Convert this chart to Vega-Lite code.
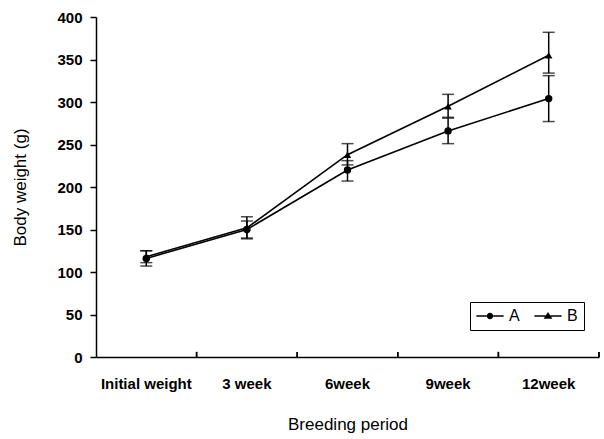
{
  "$schema": "https://vega.github.io/schema/vega-lite/v6.json",
  "width": 503,
  "height": 340,
  "autosize": "none",
  "padding": {"left": 96, "top": 17, "right": 5, "bottom": 82},
  "background": "white",
  "config": {
    "view": {"stroke": null},
    "font": "Liberation Sans",
    "axis": {"grid": false, "domainColor": "black", "tickColor": "black", "labelColor": "black", "titleColor": "black", "domainWidth": 1.5, "tickWidth": 1.5}
  },
  "data": {
    "values": [
      {"period": "Initial weight", "group": "A", "mean": 116, "lo": 107, "hi": 125},
      {"period": "Initial weight", "group": "B", "mean": 118, "lo": 111, "hi": 125},
      {"period": "3 week", "group": "A", "mean": 150, "lo": 140, "hi": 160},
      {"period": "3 week", "group": "B", "mean": 152, "lo": 139, "hi": 165},
      {"period": "6week", "group": "A", "mean": 220, "lo": 207, "hi": 231},
      {"period": "6week", "group": "B", "mean": 238, "lo": 226, "hi": 251},
      {"period": "9week", "group": "A", "mean": 266, "lo": 251, "hi": 281},
      {"period": "9week", "group": "B", "mean": 295, "lo": 282, "hi": 309},
      {"period": "12week", "group": "A", "mean": 304, "lo": 277, "hi": 331},
      {"period": "12week", "group": "B", "mean": 355, "lo": 334, "hi": 382}
    ]
  },
  "encoding": {
    "x": {
      "field": "period", "type": "nominal",
      "sort": ["Initial weight", "3 week", "6week", "9week", "12week"],
      "scale": {"type": "band", "paddingInner": 0, "paddingOuter": 0},
      "axis": {"title": "Breeding period", "labelAngle": 0, "labelFontSize": 15, "labelFontWeight": "bold", "labelPadding": 19, "ticks": false, "titleFontSize": 17, "titleFontWeight": "normal", "titlePadding": 25}
    }
  },
  "layer": [
    {
      "mark": {"type": "rule", "color": "black", "strokeWidth": 1.5},
      "encoding": {
        "x": {"field": "period", "type": "nominal", "bandPosition": 1, "sort": ["Initial weight", "3 week", "6week", "9week", "12week"]},
        "y": {"datum": 0, "type": "quantitative"},
        "y2": {"datum": 6}
      }
    },
    {
      "mark": {"type": "rule", "color": "black", "strokeWidth": 1.5},
      "encoding": {
        "y": {"field": "lo", "type": "quantitative"},
        "y2": {"field": "hi"},
        "detail": {"field": "group"}
      }
    },
    {
      "mark": {"type": "tick", "color": "black", "size": 12, "thickness": 1.5, "orient": "horizontal"},
      "encoding": {"y": {"field": "lo", "type": "quantitative"}, "detail": {"field": "group"}}
    },
    {
      "mark": {"type": "tick", "color": "black", "size": 12, "thickness": 1.5, "orient": "horizontal"},
      "encoding": {"y": {"field": "hi", "type": "quantitative"}, "detail": {"field": "group"}}
    },
    {
      "mark": {"type": "line", "color": "black", "strokeWidth": 1.6},
      "encoding": {
        "y": {"field": "mean", "type": "quantitative"},
        "detail": {"field": "group"}
      }
    },
    {
      "mark": {"type": "point", "filled": true, "color": "black", "size": 55, "opacity": 1},
      "encoding": {
        "y": {
          "field": "mean", "type": "quantitative",
          "scale": {"domain": [0, 400]},
          "axis": {"title": "Body weight (g)", "values": [0, 50, 100, 150, 200, 250, 300, 350, 400], "labelFontSize": 15, "labelFontWeight": "bold", "labelPadding": 8, "tickSize": 6, "titleFontSize": 17, "titleFontWeight": "normal", "titlePadding": 27}
        },
        "shape": {
          "field": "group", "type": "nominal",
          "scale": {"domain": ["A", "B"], "range": ["circle", "triangle-up"]},
          "legend": null
        }
      }
    },
    {
      "transform": [{"filter": "datum.mean < 0"}],
      "mark": {"type": "point", "filled": true, "color": "black", "size": 50, "opacity": 1},
      "encoding": {
        "y": {"field": "mean", "type": "quantitative"},
        "shape": {
          "field": "group", "type": "nominal",
          "scale": {"domain": ["A", "B"], "range": [
            "M-1.7,-0.09H-0.4V0.09H-1.7Z M0.4,-0.09H1.7V0.09H0.4Z M-0.4,0A0.4,0.4 0 1,1 0.4,0A0.4,0.4 0 1,1 -0.4,0Z",
            "M-1.7,-0.09H-0.3V0.09H-1.7Z M0.3,-0.09H1.7V0.09H0.3Z M-0.55,0.35L0,-0.5L0.55,0.35Z"
          ]},
          "legend": {
            "title": null,
            "orient": "none",
            "legendX": 374,
            "legendY": 285,
            "direction": "horizontal",
            "strokeColor": "black",
            "padding": 6,
            "labelFontSize": 16,
            "labelColor": "black",
            "symbolSize": 256,
            "symbolOffset": 6,
            "symbolStrokeWidth": 0,
            "symbolFillColor": "black",
            "symbolOpacity": 1,
            "columnPadding": 14,
            "labelOffset": 11
          }
        }
      }
    }
  ],
  "resolve": {"scale": {"shape": "independent"}, "legend": {"shape": "independent"}}
}
